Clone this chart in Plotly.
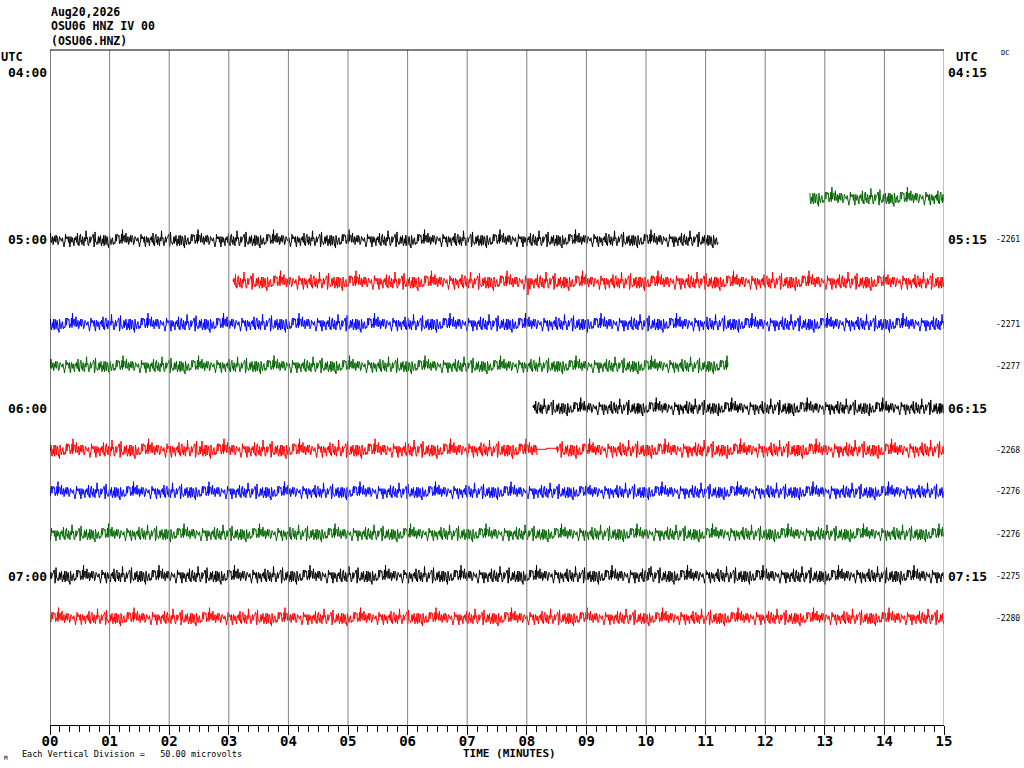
import plotly.graph_objects as go

# ---------------- data ----------------
header_lines = ["Aug20,2026", "OSU06 HNZ IV 00", "(OSU06.HNZ)"]
left_hour_labels = ["04:00", "05:00", "06:00", "07:00"]
right_hour_labels = ["04:15", "05:15", "06:15", "07:15"]
hour_rows = [0, 4, 8, 12]
minute_ticks = list(range(16))
minute_ticktext = ["%02d" % m for m in minute_ticks]

row_colors = ["#000000", "#ff0000", "#0000ff", "#006400"]

# trace segments: row index, start minute, end minute, gain
seg_rows = [3, 4, 5, 6, 7, 8, 9, 9, 10, 11, 12, 13]
seg_start = [12.75, 0.0, 3.07, 0.0, 0.0, 8.10, 0.0, 8.50, 0.0, 0.0, 0.0, 0.0]
seg_end = [15.0, 11.21, 15.0, 15.0, 11.38, 15.0, 8.17, 15.0, 15.0, 15.0, 15.0, 15.0]
seg_gain = [1.2, 1.15, 1.25, 1.2, 1.15, 1.15, 1.25, 1.25, 1.15, 1.15, 1.2, 1.15]

# DC offset labels (row, value)
dc_rows = [4, 6, 7, 9, 10, 11, 12, 13]
dc_values = ["-2261", "-2271", "-2277", "-2268", "-2276", "-2276", "-2275", "-2280"]

noise_shape = [3, -2, 4, -4, 1, -3, 5, -1, 2, -5, 3, 0, -3, 4, -2, 6, -4, 1, -1, 3,
               -6, 2, -2, 4, -3, 1, 5, -4, 0, -2, 3, -5, 2, -1, 7, -3, 1, -4, 2, -2,
               4, -1, -5, 3, 0, 2, -3, 5, -2, 1, -4, 3, -1, -6, 4, -2, 2, -3, 1, 8,
               -2, 3, -4, 0, 2, -5, 1, -2, 4, -3, 3, -1, -4, 2, 5, -3, 0, -2, 4, -7,
               2, 1, -3, 3, -2, -1, 4, -4, 2, 0, -3, 6, -2, 1, -5, 3, -1, 2, -4, 4,
               -2, -3, 1, 5, -1, -2, 3, -4, 0, 2, -3, 4, -5, 1, -1, 3, -2, 9, -3, 2,
               -4, 1, -2, 3, -1, -5, 4, -3, 2, 0, -4, 3, -2, 5, -1, -3, 2, -6, 4, 1,
               -2, 3, -4, 2, -1, 4, -3, 0, 2, -2, 3]

# notable spikes (row, minute, pixel offset)
spike_rows = [5, 12, 9]
spike_min = [8.02, 10.05, 2.55]
spike_val = [-13, 8, 9]

# flat gap in 06:15 row (minute, pixel offset)
flat_min = [8.17, 8.33, 8.33, 8.50]
flat_val = [0.7, 0.7, 1.7, 1.7]

# ---------------- figure ----------------
PX_L, PX_R, PX_T, PX_B = 50, 944, 50, 725
ROW_PX = 42
UV_PER_ROW = 50.0
UV_PER_PX = UV_PER_ROW / ROW_PX
row0_px = 72
y_top = (row0_px - PX_T) * UV_PER_PX
y_bot = -(PX_B - row0_px) * UV_PER_PX
dx = 15.0 / (PX_R - PX_L) / 2.0   # two samples per pixel column
N = len(noise_shape)

fig = go.Figure()

for i, r in enumerate(seg_rows):
    color = row_colors[r % 4]
    n = int(round((seg_end[i] - seg_start[i]) / dx)) + 1
    xs, ys = [], []
    off = (r * 37 + i * 11) % N
    base = -r * UV_PER_ROW
    for k in range(n):
        xm = seg_start[i] + k * dx
        v = noise_shape[(k * 7 + off) % N] * seg_gain[i]
        for j, sr in enumerate(spike_rows):
            if sr == r and abs(spike_min[j] - xm) < dx / 2:
                v = spike_val[j]
        xs.append(xm)
        ys.append(base + v * UV_PER_PX)
    fig.add_trace(go.Scatter(x=xs, y=ys, mode="lines",
                             line=dict(color=color, width=1, simplify=False),
                             hoverinfo="skip", showlegend=False))

fig.add_trace(go.Scatter(x=flat_min, y=[-9 * UV_PER_ROW + v * UV_PER_PX for v in flat_val],
                         mode="lines", line=dict(color=row_colors[9 % 4], width=1),
                         hoverinfo="skip", showlegend=False))

# grid / frame
shapes = []
for m in range(1, 16):
    shapes.append(dict(type="line", xref="x", yref="paper", x0=m, x1=m, y0=0, y1=1,
                       line=dict(color="#808080", width=1), layer="above"))
shapes.append(dict(type="line", xref="x", yref="paper", x0=0, x1=0, y0=0, y1=1,
                   line=dict(color="#000000", width=1), layer="above"))
shapes.append(dict(type="line", xref="paper", yref="paper", x0=0, x1=1, y0=1, y1=1,
                   line=dict(color="#000000", width=1), layer="above"))

def px2paper(px, py):
    return (px - PX_L) / (PX_R - PX_L), (PX_B - py) / (PX_B - PX_T)

MONO = "DejaVu Sans Mono"
ann = []
def add_text(text, px, py, size, anchor="left", bold=True, color="#000000"):
    xp, yp = px2paper(px, py)
    ann.append(dict(text=("<b>%s</b>" % text) if bold else text, x=xp, y=yp,
                    xref="paper", yref="paper", xanchor=anchor, yanchor="middle",
                    showarrow=False, font=dict(family=MONO, size=size, color=color)))

for i, t in enumerate(header_lines):
    add_text(t, 49, 12 + i * 14.5, 11.5)
add_text("UTC", -1, 57, 12)
add_text("UTC", 954, 57, 12)
add_text("DC", 999, 53, 7, bold=False)
for i, r in enumerate(hour_rows):
    py = row0_px + r * ROW_PX
    add_text(left_hour_labels[i], 49, py, 13, anchor="right")
    add_text(right_hour_labels[i], 946, py, 13)
for i, r in enumerate(dc_rows):
    add_text(dc_values[i], 994, row0_px + r * ROW_PX, 8, bold=False)
add_text("TIME (MINUTES)", 509, 754, 11, anchor="center")
add_text("M", 2, 757, 6, bold=False)
add_text("Each Vertical Division =   50.00 microvolts", 20, 754, 8.5, bold=False)

fig.update_layout(
    width=1024, height=768,
    margin=dict(l=PX_L, r=1024 - PX_R, t=PX_T, b=768 - PX_B),
    paper_bgcolor="white", plot_bgcolor="white",
    shapes=shapes, annotations=ann,
    xaxis=dict(range=[0, 15], tickvals=minute_ticks, ticktext=minute_ticktext,
               ticks="outside", ticklen=9, tickwidth=1, tickcolor="#000000",
               ticklabelstandoff=-6,
               showgrid=False, zeroline=False, showline=True, linecolor="#000000",
               linewidth=1, fixedrange=True,
               tickfont=dict(family=MONO, size=14, color="#000000", weight="bold"),
               minor=dict(dtick=1 / 6, ticks="outside", ticklen=6, tickcolor="#000000",
                          showgrid=False)),
    yaxis=dict(range=[y_bot, y_top], visible=False, fixedrange=True),
)

fig.write_html("out.html", config={"displayModeBar": False},
               post_script="document.body.style.margin='0';document.body.style.overflow='hidden';")
